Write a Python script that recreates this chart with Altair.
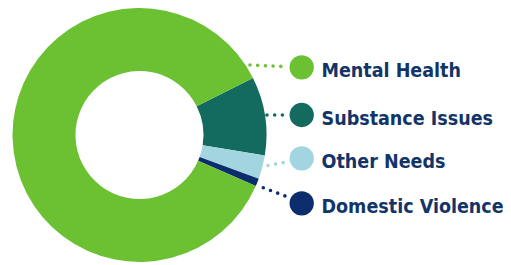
import math
import altair as alt
import pandas as pd

# ---- data ----
categories = ["Substance Issues", "Other Needs", "Domestic Violence", "Mental Health"]
values = [10, 3, 1, 86]
legend_order = ["Mental Health", "Substance Issues", "Other Needs", "Domestic Violence"]

# ---- styles / layout ----
colors = ["#6cc133", "#136b5f", "#a3d5e0", "#0c2d6c"]  # in legend_order
text_color = "#123468"
font = "'DejaVu Sans Condensed', 'DejaVu Sans', sans-serif"
start_angle = math.radians(63.3)
cx, cy = 131.5, 127
outer_r, inner_r = 127, 64

legend_x = 293.7
legend_y = [59.3, 107, 150.3, 195.3]
text_x = 313.5
lead_x1 = [242, 259, 260, 255.3]
lead_y1 = [57, 107, 157.5, 179.7]
lead_x2 = [275, 276, 276, 278]
lead_y2 = [58.5, 107, 154.5, 188.3]

color_scale = alt.Scale(domain=legend_order, range=colors)

arc_df = pd.DataFrame({"category": categories, "value": values,
                       "order": list(range(len(categories)))})
leg_df = pd.DataFrame({"category": legend_order, "y": legend_y,
                       "x1": lead_x1, "y1": lead_y1, "x2": lead_x2, "y2": lead_y2})

arcs = alt.Chart(arc_df).mark_arc(outerRadius=outer_r, innerRadius=inner_r).encode(
    theta=alt.Theta("value:Q", stack=True,
                    scale=alt.Scale(range=[start_angle, start_angle + 2 * math.pi])),
    order=alt.Order("order:Q"),
    color=alt.Color("category:N", scale=color_scale, legend=None),
    x=alt.value(cx),
    y=alt.value(cy),
)

leaders = alt.Chart(leg_df).mark_rule(strokeWidth=3.6, strokeCap="round",
                                      strokeDash=[0, 7.7]).encode(
    x=alt.X("x1:Q", scale=None),
    y=alt.Y("y1:Q", scale=None),
    x2="x2:Q",
    y2="y2:Q",
    color=alt.Color("category:N", scale=color_scale, legend=None),
)

dots = alt.Chart(leg_df).mark_circle(size=590, opacity=1).encode(
    x=alt.value(legend_x),
    y=alt.Y("y:Q", scale=None),
    color=alt.Color("category:N", scale=color_scale, legend=None),
)

labels = alt.Chart(leg_df).mark_text(
    align="left", baseline="alphabetic", dy=10, font=font, fontSize=19.5,
    fontWeight="bold", color=text_color,
).encode(
    x=alt.value(text_x),
    y=alt.Y("y:Q", scale=None),
    text="category:N",
)

chart = alt.layer(arcs, leaders, dots, labels).properties(
    width=495, height=257, padding=0, autosize="none"
).configure_view(stroke=None)

chart.save("out.html", embed_options={"renderer": "svg", "actions": False})
